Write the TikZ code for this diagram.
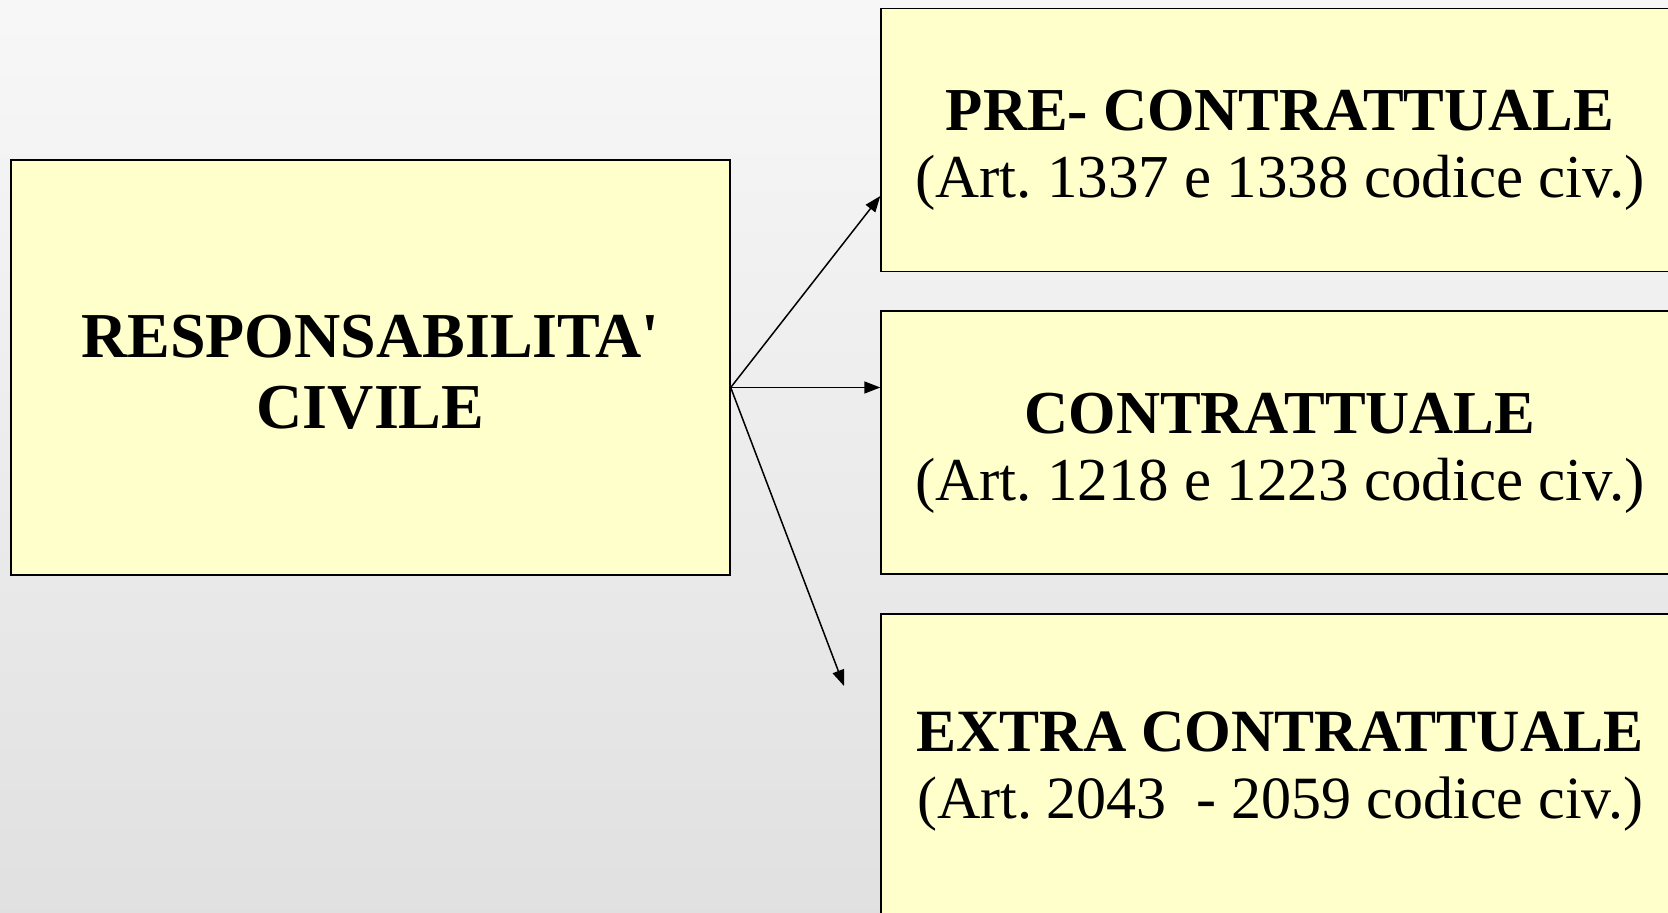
\documentclass[tikz,border=0pt]{standalone}
\usepackage{fontspec}
\setmainfont{Liberation Serif}
\usetikzlibrary{arrows.meta}

\definecolor{boxyellow}{RGB}{255,255,204}
\newcommand{\topgap}[1]{\rule{0pt}{#1}}

\begin{document}
\frenchspacing
\begin{tikzpicture}[x=0.5pt,y=-0.5pt]
    \clip (0,0) rectangle (1668,913);
    \shade[top color=gray!6, bottom color=gray!24] (0,0) rectangle (1668,913);
    \begin{scope}[every node/.style={draw=black,line width=0.7pt,fill=boxyellow,
        align=center,inner sep=0pt,font=\fontsize{30.5}{33.5}\selectfont}]
        \node[minimum width=359.5pt,minimum height=207.5pt,font=\fontsize{32}{35.5}\selectfont]
            (resp) at (370.5,367.5)
            {\topgap{26pt}\textbf{RESPONSABILITA\textquotesingle}\\\textbf{CIVILE}};
        \node[minimum width=399pt,minimum height=131.75pt] (pre) at (1280,140)
            {\topgap{30.5pt}\textbf{PRE- CONTRATTUALE}\\(Art. 1337 e 1338 codice civ.)};
        \node[minimum width=399pt,minimum height=131.5pt] (con) at (1280,442.5)
            {\topgap{30.5pt}\textbf{CONTRATTUALE}\\(Art. 1218 e 1223 codice civ.)};
        \node[minimum width=399pt,minimum height=158pt,font=\fontsize{30}{33.5}\selectfont]
            (extra) at (1280,772)
            {\textbf{EXTRA CONTRATTUALE}\\(Art. 2043\ \ - 2059 codice civ.)};
    \end{scope}
    \coordinate (fork) at ([yshift=-10pt]resp.east);
    \coordinate (pre-in) at ([yshift=-28pt]pre.west);
    \coordinate (con-in) at ([yshift=27.5pt]con.west);
    \coordinate (extra-in) at (844,686);
    \begin{scope}[every path/.style={-{Triangle[length=8pt,width=6pt]},line width=0.75pt}]
        \draw (fork) -- (pre-in);
        \draw (fork) -- (con-in);
        \draw (fork) -- (extra-in);
    \end{scope}
\end{tikzpicture}
\end{document}
